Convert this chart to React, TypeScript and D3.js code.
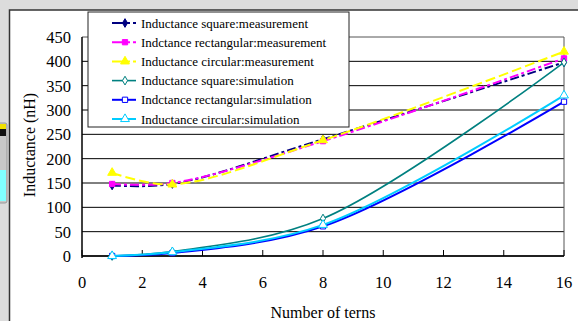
import * as d3 from 'd3';

// Number of turns where values were taken
const terms = [1, 3, 8, 16];

// Inductance values (nH)
const squareMeasured = [145, 148, 240, 398];
const rectMeasured = [148, 150, 236, 406];
const circMeasured = [171, 147, 238, 420];
const squareSim = [0, 9, 77, 398];
const rectSim = [0, 6, 61, 317];
const circSim = [0, 8, 64, 330];

const xTicks = [0, 2, 4, 6, 8, 10, 12, 14, 16];
const yTicks = [0, 50, 100, 150, 200, 250, 300, 350, 400, 450];

const series = [
  { name: 'Inductance square:measurement', values: squareMeasured, color: '#000080', dash: '9,3,3,3', marker: 'diamond', filled: true, width: 2 },
  { name: 'Indctance rectangular:measurement', values: rectMeasured, color: '#ff00ff', dash: '9,3,3,3', marker: 'square', filled: true, width: 2 },
  { name: 'Inductance circular:measurement', values: circMeasured, color: '#ffff00', dash: '10,4', marker: 'triangle', filled: true, width: 2 },
  { name: 'Inductance square:simulation', values: squareSim, color: '#008080', dash: null, marker: 'diamond', filled: false, width: 1.6 },
  { name: 'Indctance rectangular:simulation', values: rectSim, color: '#0000ff', dash: null, marker: 'square', filled: false, width: 2 },
  { name: 'Inductance circular:simulation', values: circSim, color: '#00ccff', dash: null, marker: 'triangle', filled: false, width: 2 },
];

const W = 578;
const H = 321;
const plot = { left: 82, right: 564, top: 37, bottom: 256 };
const font = '"Liberation Serif", "Times New Roman", serif';

function Marker({ type, x, y, color, filled }: { type: string; x: number; y: number; color: string; filled: boolean }) {
  const sym = type === 'diamond' ? d3.symbolDiamond : type === 'square' ? d3.symbolSquare : d3.symbolTriangle;
  const size = type === 'diamond' ? 22 : type === 'square' ? 28 : 34;
  const path = d3.symbol(sym, size)() || '';
  return (
    <path
      d={path}
      transform={`translate(${x},${y})`}
      fill={filled ? color : 'white'}
      stroke={color}
      strokeWidth={1}
    />
  );
}

export default function App() {
  const x = d3.scaleLinear().domain([0, 16]).range([plot.left, plot.right]);
  const y = d3.scaleLinear().domain([0, 450]).range([plot.bottom, plot.top]);
  const line = d3
    .line<number>()
    .x((_, i) => x(terms[i]))
    .y((d) => y(d))
    .curve(d3.curveCatmullRom.alpha(0.5));

  const legend = { x: 88, y: 12, w: 261, h: 115, rowH: 19.2 };

  return (
    <div style={{ position: 'fixed', left: 0, top: 0 }}>
      <svg width={W} height={H} style={{ display: 'block' }}>
        <rect x={0} y={0} width={W} height={H} fill="#dcdcdc" />
        {/* left-edge widget fragment */}
        <rect x={-2} y={123} width={9} height={80} rx={2} fill="#c8c8c8" stroke="#999" />
        <rect x={0} y={124} width={6} height={5} fill="#f0e000" />
        <rect x={0} y={129} width={6} height={7} fill="#111" />
        <rect x={0} y={170} width={6} height={31} fill="#80ffff" />
        <rect x={9.5} y={10} width={W} height={H} fill="white" stroke="#333" strokeWidth={1.5} />

        {/* gridlines */}
        {yTicks.map((t) => (
          <line key={t} x1={plot.left} x2={plot.right} y1={y(t)} y2={y(t)} stroke={t === 450 ? '#555' : '#000'} strokeWidth={1} />
        ))}
        <line x1={plot.right} x2={plot.right} y1={plot.top} y2={plot.bottom} stroke="#555" />
        <line x1={plot.left} x2={plot.left} y1={plot.top} y2={plot.bottom + 2} stroke="#000" strokeWidth={1.5} />
        <line x1={plot.left} x2={plot.right} y1={plot.bottom} y2={plot.bottom} stroke="#000" strokeWidth={1.5} />
        {xTicks.map((t) => (
          <line key={t} x1={x(t)} x2={x(t)} y1={plot.bottom} y2={plot.bottom - 6} stroke="#000" />
        ))}

        {/* tick labels */}
        {yTicks.map((t) => (
          <text key={t} x={71} y={y(t) + 6} textAnchor="end" fontFamily={font} fontSize={16.5} fill="#000">
            {t}
          </text>
        ))}
        {xTicks.map((t) => (
          <text key={t} x={x(t)} y={288} textAnchor="middle" fontFamily={font} fontSize={16.5} fill="#000">
            {t}
          </text>
        ))}

        <text x={plot.left + (plot.right - plot.left) / 2} y={318} textAnchor="middle" fontFamily={font} fontSize={16} fill="#000">
          Number of terns
        </text>
        <text transform="translate(35,145) rotate(-90)" textAnchor="middle" fontFamily={font} fontSize={16} fill="#000">
          Inductance (nH)
        </text>

        {/* series */}
        {series.map((s) => (
          <g key={s.name}>
            <path d={line(s.values) || ''} fill="none" stroke={s.color} strokeWidth={s.width} strokeDasharray={s.dash || undefined} />
            {s.values.map((v, i) => (
              <Marker key={i} type={s.marker} x={x(terms[i])} y={y(v)} color={s.color} filled={s.filled} />
            ))}
          </g>
        ))}

        {/* legend */}
        <rect x={legend.x} y={legend.y} width={legend.w} height={legend.h} fill="white" stroke="#222" strokeWidth={1} />
        {series.map((s, i) => {
          const ly = legend.y + 11 + i * legend.rowH;
          return (
            <g key={s.name}>
              <line x1={112} x2={136} y1={ly} y2={ly} stroke={s.color} strokeWidth={s.width} strokeDasharray={s.dash ? '12,3,3,3' : undefined} />
              <Marker type={s.marker} x={125} y={ly} color={s.color} filled={s.filled} />
              <text x={141} y={ly + 4.5} fontFamily={font} fontSize={13} fill="#000">
                {s.name}
              </text>
            </g>
          );
        })}
      </svg>
    </div>
  );
}
